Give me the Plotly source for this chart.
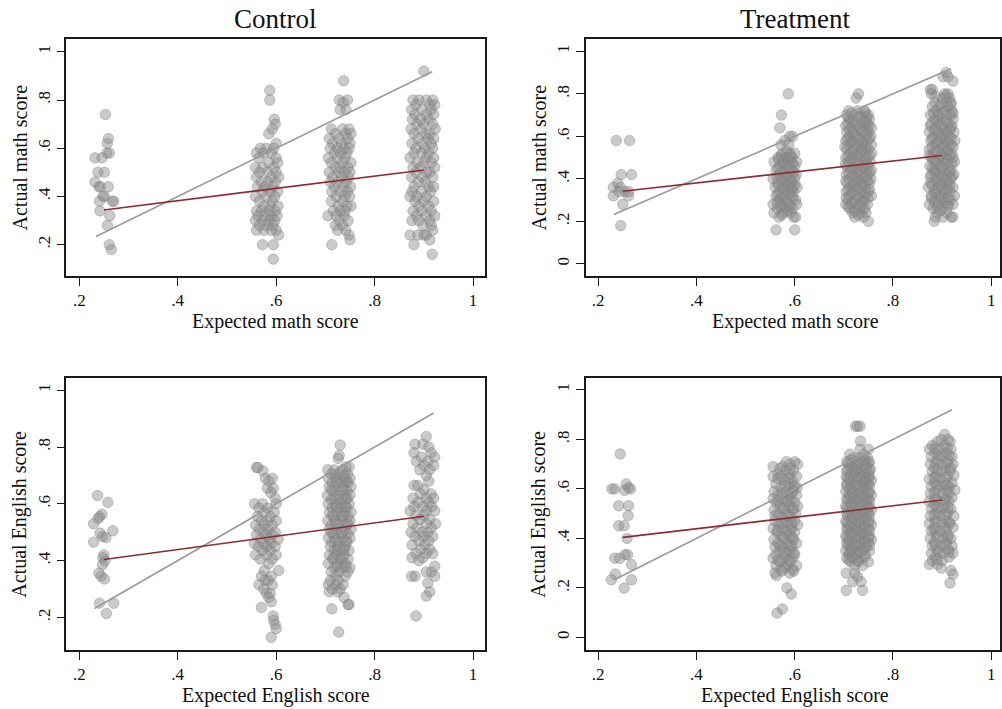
import plotly.graph_objects as go

# ---------------- data (rows: actual score, [expected score with jitter]) ----------------
control_math = [
    (0.74, [0.253]), (0.64, [0.259]), (0.62, [0.257]), (0.58, [0.256, 0.261]), (0.56, [0.232, 0.246]),
    (0.50, [0.238, 0.251]), (0.46, [0.232]), (0.44, [0.240, 0.243, 0.259]), (0.40, [0.248, 0.251]),
    (0.38, [0.241, 0.270, 0.267]), (0.34, [0.242]), (0.32, [0.262]), (0.28, [0.257]), (0.20, [0.261]), (0.18, [0.265]),
    (0.84, [0.587]), (0.80, [0.587]), (0.72, [0.596]), (0.70, [0.598]), (0.68, [0.592]), (0.66, [0.585]), (0.62, [0.600]),
    (0.60, [0.568, 0.580, 0.595]), (0.58, [0.560, 0.575, 0.590]), (0.56, [0.565, 0.600]), (0.54, [0.585, 0.603]),
    (0.52, [0.558, 0.572, 0.595]), (0.50, [0.566, 0.582, 0.600]), (0.48, [0.560, 0.590, 0.605]),
    (0.46, [0.570, 0.583, 0.598]), (0.44, [0.562, 0.577, 0.593]), (0.42, [0.572, 0.588, 0.603]),
    (0.40, [0.558, 0.580, 0.597]), (0.38, [0.566, 0.592]), (0.36, [0.575, 0.588, 0.604]),
    (0.34, [0.560, 0.570, 0.585, 0.598]), (0.32, [0.563, 0.578, 0.590, 0.602]), (0.30, [0.558, 0.572, 0.586, 0.597]),
    (0.28, [0.566, 0.580, 0.594]), (0.26, [0.560, 0.575, 0.590, 0.600]), (0.24, [0.605]), (0.20, [0.572, 0.594]), (0.14, [0.594]),
    (0.88, [0.737]), (0.80, [0.728, 0.745]), (0.79, [0.736]), (0.76, [0.730, 0.742]),
    (0.68, [0.712, 0.735, 0.748]), (0.66, [0.720, 0.741, 0.752]), (0.64, [0.708, 0.728, 0.745]),
    (0.62, [0.715, 0.733, 0.750]), (0.60, [0.710, 0.724, 0.738, 0.748]), (0.58, [0.718, 0.731, 0.744]),
    (0.56, [0.706, 0.725, 0.740]), (0.54, [0.712, 0.735, 0.752]), (0.52, [0.720, 0.730, 0.746]),
    (0.50, [0.708, 0.727, 0.739, 0.750]), (0.48, [0.715, 0.733, 0.747]), (0.46, [0.710, 0.725, 0.742]),
    (0.44, [0.718, 0.736, 0.751]), (0.42, [0.713, 0.730, 0.745]), (0.40, [0.722, 0.740, 0.749]),
    (0.38, [0.712, 0.735]), (0.36, [0.726, 0.744, 0.752]), (0.34, [0.716, 0.731, 0.740]),
    (0.32, [0.705, 0.722, 0.738]), (0.30, [0.728, 0.746]), (0.28, [0.720, 0.735]), (0.26, [0.725, 0.741]),
    (0.24, [0.748]), (0.22, [0.750]), (0.20, [0.713]),
    (0.92, [0.900]), (0.80, [0.878, 0.890, 0.905, 0.918]), (0.78, [0.884, 0.912, 0.922]), (0.76, [0.875, 0.896, 0.915]),
    (0.74, [0.882, 0.905, 0.920]), (0.72, [0.877, 0.893, 0.910]), (0.70, [0.886, 0.900, 0.918]),
    (0.68, [0.874, 0.895, 0.923]), (0.66, [0.880, 0.903, 0.912]), (0.64, [0.888, 0.908, 0.920]),
    (0.62, [0.876, 0.897, 0.915]), (0.60, [0.884, 0.902, 0.918]), (0.58, [0.880, 0.895, 0.910]),
    (0.56, [0.872, 0.905, 0.920]), (0.54, [0.886, 0.900, 0.915]), (0.52, [0.878, 0.893, 0.922]),
    (0.50, [0.884, 0.906, 0.912]), (0.48, [0.875, 0.897, 0.918]), (0.46, [0.889, 0.903]),
    (0.44, [0.880, 0.910, 0.920]), (0.42, [0.876, 0.895, 0.914]), (0.40, [0.872, 0.886, 0.905]),
    (0.38, [0.882, 0.900, 0.920]), (0.36, [0.890, 0.910]), (0.34, [0.878, 0.896, 0.915]),
    (0.32, [0.885, 0.905, 0.922]), (0.30, [0.876, 0.890, 0.912]), (0.28, [0.898, 0.915]), (0.26, [0.918]),
    (0.24, [0.872, 0.888, 0.900, 0.905]), (0.22, [0.912]), (0.20, [0.880]), (0.16, [0.917]),
]

treatment_math = [
    (0.58, [0.237, 0.264]), (0.42, [0.247, 0.268]), (0.38, [0.240]), (0.36, [0.231, 0.245]),
    (0.34, [0.242, 0.254, 0.262]), (0.32, [0.231, 0.262]), (0.28, [0.250]), (0.18, [0.246]),
    (0.80, [0.587]), (0.70, [0.573]), (0.64, [0.570]), (0.60, [0.590, 0.596]), (0.58, [0.580]), (0.56, [0.572, 0.588]),
    (0.52, [0.575, 0.590, 0.600]), (0.50, [0.566, 0.582, 0.595]), (0.48, [0.558, 0.576, 0.592, 0.604]),
    (0.46, [0.570, 0.585, 0.600]), (0.44, [0.562, 0.578, 0.594]), (0.42, [0.568, 0.586, 0.603]),
    (0.40, [0.556, 0.574, 0.590, 0.600]), (0.38, [0.565, 0.582, 0.596]), (0.36, [0.560, 0.576, 0.592, 0.605]),
    (0.34, [0.570, 0.586, 0.598]), (0.32, [0.562, 0.578, 0.594]), (0.30, [0.568, 0.584, 0.602]),
    (0.28, [0.556, 0.574, 0.590, 0.604]), (0.26, [0.565, 0.581, 0.596]), (0.24, [0.558, 0.576, 0.592]),
    (0.22, [0.568, 0.598, 0.602]), (0.16, [0.562, 0.600]),
    (0.80, [0.730]), (0.78, [0.725]), (0.72, [0.710, 0.728, 0.742]), (0.70, [0.705, 0.720, 0.735, 0.750]),
    (0.68, [0.712, 0.740, 0.752]), (0.66, [0.708, 0.722, 0.736, 0.748]), (0.64, [0.715, 0.730, 0.745, 0.756]),
    (0.62, [0.706, 0.720, 0.738, 0.750]), (0.60, [0.712, 0.727, 0.742, 0.755]), (0.58, [0.704, 0.718, 0.733, 0.748]),
    (0.56, [0.710, 0.725, 0.740, 0.756]), (0.54, [0.706, 0.720, 0.735, 0.750]), (0.52, [0.713, 0.728, 0.744, 0.757]),
    (0.50, [0.704, 0.718, 0.732, 0.748]), (0.48, [0.710, 0.725, 0.740, 0.754]), (0.46, [0.706, 0.721, 0.736, 0.750]),
    (0.44, [0.714, 0.729, 0.745, 0.756]), (0.42, [0.705, 0.719, 0.734, 0.749]), (0.40, [0.711, 0.726, 0.741, 0.755]),
    (0.38, [0.707, 0.722, 0.737, 0.752]), (0.36, [0.713, 0.728, 0.743]), (0.34, [0.705, 0.720, 0.735, 0.750]),
    (0.32, [0.712, 0.727, 0.742, 0.756]), (0.30, [0.708, 0.723, 0.738]), (0.28, [0.704, 0.716, 0.731, 0.748]),
    (0.26, [0.712, 0.726, 0.742]), (0.24, [0.718, 0.735, 0.745]), (0.22, [0.722, 0.740]), (0.20, [0.750]),
    (0.90, [0.908]), (0.88, [0.902, 0.912]), (0.86, [0.922]), (0.82, [0.876, 0.880]), (0.80, [0.878, 0.905, 0.912]),
    (0.78, [0.900, 0.915]), (0.76, [0.885, 0.908, 0.918]), (0.74, [0.880, 0.895, 0.912]), (0.72, [0.888, 0.904, 0.920]),
    (0.70, [0.876, 0.892, 0.910, 0.918]), (0.68, [0.884, 0.900, 0.922]), (0.66, [0.878, 0.896, 0.912]),
    (0.64, [0.886, 0.905, 0.918]), (0.62, [0.874, 0.893, 0.910, 0.924]), (0.60, [0.882, 0.898, 0.915]),
    (0.58, [0.877, 0.892, 0.908, 0.926]), (0.56, [0.886, 0.902, 0.918]), (0.54, [0.874, 0.895, 0.912]),
    (0.52, [0.882, 0.900, 0.920]), (0.50, [0.878, 0.893, 0.908, 0.922]), (0.48, [0.886, 0.903, 0.925]),
    (0.46, [0.875, 0.896, 0.913]), (0.44, [0.883, 0.900, 0.918]), (0.42, [0.878, 0.894, 0.910, 0.924]),
    (0.40, [0.887, 0.905, 0.917]), (0.38, [0.876, 0.895, 0.912]), (0.36, [0.872, 0.890, 0.908, 0.922]),
    (0.34, [0.884, 0.900, 0.916]), (0.32, [0.878, 0.896, 0.925]), (0.30, [0.886, 0.904, 0.918]),
    (0.28, [0.874, 0.893, 0.912, 0.922]), (0.26, [0.882, 0.900]), (0.24, [0.890, 0.910]),
    (0.22, [0.886, 0.902, 0.918, 0.922]), (0.20, [0.884]),
]
treatment_math_dense = [
    (0.53, [0.584]), (0.51, [0.572, 0.592]), (0.49, [0.568, 0.586]), (0.47, [0.578, 0.596]), (0.45, [0.566, 0.588]),
    (0.43, [0.576, 0.598]), (0.41, [0.564, 0.582]), (0.39, [0.574, 0.592]), (0.37, [0.568, 0.586, 0.600]),
    (0.35, [0.578, 0.594]), (0.33, [0.566, 0.588]), (0.31, [0.574, 0.596]), (0.29, [0.564, 0.584]),
    (0.27, [0.572, 0.590]), (0.25, [0.584]), (0.23, [0.574]),
    (0.71, [0.716, 0.744]), (0.69, [0.709, 0.731, 0.746]), (0.67, [0.718, 0.744]), (0.65, [0.704, 0.726, 0.751]),
    (0.63, [0.712, 0.735]), (0.61, [0.719, 0.746]), (0.59, [0.708, 0.729, 0.752]), (0.57, [0.715, 0.738]),
    (0.55, [0.702, 0.730, 0.745]), (0.53, [0.718, 0.736]), (0.51, [0.709, 0.725, 0.752]), (0.49, [0.715, 0.744]),
    (0.47, [0.703, 0.729, 0.746]), (0.45, [0.719, 0.738]), (0.43, [0.710, 0.727, 0.753]), (0.41, [0.717, 0.745]),
    (0.39, [0.704, 0.731, 0.748]), (0.37, [0.719, 0.736]), (0.35, [0.709, 0.727, 0.752]), (0.33, [0.716, 0.744]),
    (0.31, [0.705, 0.731, 0.749]), (0.29, [0.718, 0.740]), (0.27, [0.709, 0.734]), (0.25, [0.722]), (0.23, [0.730]),
    (0.79, [0.886, 0.908]), (0.75, [0.898, 0.918]), (0.71, [0.882, 0.900, 0.922]), (0.67, [0.890, 0.908]),
    (0.65, [0.876, 0.898, 0.920]), (0.63, [0.884, 0.915]), (0.61, [0.892, 0.906]), (0.59, [0.880, 0.898, 0.918]),
    (0.57, [0.890, 0.912]), (0.55, [0.880, 0.904, 0.922]), (0.53, [0.888, 0.910]), (0.51, [0.874, 0.898, 0.916]),
    (0.49, [0.882, 0.912]), (0.47, [0.890, 0.906, 0.920]), (0.45, [0.880, 0.898]), (0.43, [0.886, 0.915]),
    (0.41, [0.876, 0.900, 0.920]), (0.39, [0.888, 0.908]), (0.37, [0.880, 0.898, 0.915]), (0.35, [0.892, 0.910]),
    (0.33, [0.886, 0.905]), (0.31, [0.878, 0.898, 0.912]), (0.29, [0.884, 0.906]), (0.27, [0.890, 0.912]), (0.25, [0.896]),
]

control_english = [
    (0.629, [0.237]), (0.605, [0.258]), (0.563, [0.246]), (0.555, [0.241]), (0.548, [0.238]), (0.530, [0.229]),
    (0.505, [0.268]), (0.497, [0.242]), (0.485, [0.247]), (0.481, [0.254]), (0.465, [0.229]), (0.420, [0.250]),
    (0.410, [0.248]), (0.398, [0.252]), (0.385, [0.247]), (0.356, [0.240]), (0.345, [0.244]), (0.335, [0.251]),
    (0.250, [0.241, 0.270]), (0.214, [0.255]),
    (0.728, [0.560, 0.563]), (0.716, [0.573]), (0.69, [0.578, 0.592]), (0.68, [0.585]), (0.655, [0.582, 0.594]),
    (0.64, [0.589]), (0.62, [0.598]), (0.60, [0.556, 0.572, 0.600]), (0.585, [0.565, 0.583]), (0.57, [0.575, 0.596]),
    (0.555, [0.562, 0.588]), (0.54, [0.570, 0.582, 0.600]), (0.525, [0.558, 0.576, 0.592]), (0.51, [0.566, 0.584]),
    (0.50, [0.574, 0.598]), (0.49, [0.560, 0.580, 0.592]), (0.475, [0.568, 0.586, 0.604]), (0.46, [0.556, 0.575, 0.590]),
    (0.45, [0.564, 0.582, 0.598]), (0.435, [0.572, 0.588]), (0.42, [0.558, 0.580, 0.600]), (0.405, [0.568, 0.592]),
    (0.39, [0.585]), (0.365, [0.576, 0.605]), (0.345, [0.570, 0.590]), (0.33, [0.578, 0.584]), (0.315, [0.565, 0.592]),
    (0.30, [0.575]), (0.285, [0.580, 0.588]), (0.27, [0.585]), (0.255, [0.590]), (0.235, [0.570]), (0.205, [0.594]),
    (0.19, [0.595]), (0.175, [0.598]), (0.16, [0.600]), (0.13, [0.590]),
    (0.807, [0.730]), (0.77, [0.728]), (0.76, [0.726]), (0.73, [0.742, 0.748]), (0.72, [0.705, 0.718, 0.735]),
    (0.705, [0.712, 0.728, 0.745]), (0.69, [0.706, 0.722, 0.738, 0.750]), (0.675, [0.714, 0.731, 0.746]),
    (0.66, [0.708, 0.720, 0.736, 0.752]), (0.645, [0.716, 0.730, 0.744]), (0.63, [0.704, 0.722, 0.738, 0.750]),
    (0.615, [0.712, 0.727, 0.742]), (0.60, [0.706, 0.720, 0.735, 0.748]), (0.585, [0.714, 0.730, 0.744]),
    (0.57, [0.708, 0.724, 0.739, 0.752]), (0.555, [0.716, 0.732, 0.746]), (0.54, [0.705, 0.720, 0.736, 0.750]),
    (0.525, [0.712, 0.728, 0.743]), (0.51, [0.708, 0.723, 0.738, 0.752]), (0.495, [0.716, 0.731, 0.745]),
    (0.48, [0.706, 0.720, 0.735, 0.750]), (0.465, [0.713, 0.729, 0.744]), (0.45, [0.710, 0.724, 0.740]),
    (0.435, [0.718, 0.733, 0.748]), (0.42, [0.708, 0.722, 0.738]), (0.405, [0.715, 0.730, 0.746]),
    (0.39, [0.706, 0.725, 0.740]), (0.375, [0.718, 0.735, 0.750]), (0.36, [0.712, 0.728, 0.745]),
    (0.345, [0.720, 0.740]), (0.33, [0.710, 0.726]), (0.315, [0.706, 0.722, 0.736]), (0.30, [0.714, 0.730]),
    (0.29, [0.708, 0.725]), (0.27, [0.738]), (0.245, [0.746, 0.748]), (0.23, [0.713]), (0.148, [0.727]),
    (0.837, [0.905]), (0.81, [0.882, 0.898]), (0.80, [0.910]), (0.78, [0.880, 0.915]), (0.765, [0.895, 0.922]),
    (0.75, [0.885, 0.908]), (0.735, [0.900, 0.920]), (0.72, [0.892, 0.912]), (0.70, [0.905]), (0.68, [0.910]),
    (0.665, [0.880, 0.888]), (0.65, [0.900]), (0.635, [0.893, 0.915]), (0.62, [0.878, 0.905, 0.920]),
    (0.605, [0.888, 0.910]), (0.59, [0.880, 0.898, 0.916]), (0.575, [0.872, 0.905, 0.922]), (0.56, [0.884, 0.900]),
    (0.545, [0.892, 0.912]), (0.53, [0.878, 0.905, 0.924]), (0.515, [0.886, 0.915]), (0.50, [0.874, 0.896, 0.908]),
    (0.485, [0.882, 0.900, 0.918]), (0.47, [0.890, 0.910]), (0.455, [0.876, 0.902]), (0.44, [0.894, 0.912]),
    (0.425, [0.884, 0.905, 0.918]), (0.41, [0.876, 0.898]), (0.40, [0.890]), (0.38, [0.922]), (0.36, [0.905, 0.915]),
    (0.345, [0.875, 0.882, 0.922]), (0.32, [0.908]), (0.29, [0.912]), (0.275, [0.905]), (0.205, [0.884]),
]
control_english_dense = [
    (0.70, [0.720, 0.738]), (0.68, [0.724, 0.742]), (0.65, [0.712, 0.738]), (0.62, [0.718, 0.744]),
    (0.59, [0.724, 0.740]), (0.56, [0.714, 0.736]), (0.53, [0.722, 0.746]), (0.50, [0.712, 0.734]),
    (0.47, [0.720, 0.742]), (0.44, [0.726, 0.738]), (0.41, [0.716, 0.734]), (0.38, [0.724, 0.742]),
]

treatment_english = [
    (0.741, [0.245]), (0.620, [0.257]), (0.605, [0.262]), (0.600, [0.228, 0.234, 0.266]), (0.594, [0.254]),
    (0.532, [0.242, 0.262]), (0.492, [0.261]), (0.451, [0.242, 0.253]), (0.400, [0.259]), (0.334, [0.255, 0.260]),
    (0.320, [0.234, 0.244]), (0.294, [0.268]), (0.256, [0.235]), (0.233, [0.227, 0.268]), (0.199, [0.253]),
    (0.71, [0.583, 0.600]), (0.70, [0.590, 0.606]), (0.69, [0.556, 0.575]), (0.675, [0.582, 0.598]),
    (0.66, [0.566, 0.590]), (0.65, [0.556, 0.572, 0.604]), (0.635, [0.580, 0.595]), (0.62, [0.562, 0.588]),
    (0.605, [0.572, 0.598, 0.605]), (0.59, [0.558, 0.582, 0.596]), (0.575, [0.566, 0.588, 0.604]),
    (0.56, [0.556, 0.574, 0.592]), (0.545, [0.562, 0.583, 0.600]), (0.53, [0.570, 0.590, 0.606]),
    (0.515, [0.558, 0.578, 0.596]), (0.50, [0.566, 0.586, 0.602]), (0.485, [0.574, 0.592]),
    (0.47, [0.560, 0.582, 0.600]), (0.455, [0.568, 0.588, 0.606]), (0.44, [0.556, 0.576, 0.594]),
    (0.425, [0.564, 0.584, 0.600]), (0.41, [0.572, 0.590]), (0.395, [0.558, 0.580, 0.598]),
    (0.38, [0.566, 0.586, 0.604]), (0.365, [0.560, 0.576, 0.594]), (0.35, [0.570, 0.590]),
    (0.335, [0.562, 0.584, 0.600]), (0.32, [0.556, 0.578, 0.596]), (0.305, [0.570, 0.590]),
    (0.29, [0.562, 0.584, 0.604]), (0.275, [0.572, 0.596]), (0.26, [0.560, 0.590]), (0.25, [0.563]),
    (0.20, [0.584]), (0.175, [0.593]), (0.115, [0.575]), (0.098, [0.564]),
    (0.853, [0.724, 0.728, 0.733]), (0.793, [0.734]), (0.76, [0.733, 0.750]), (0.74, [0.712, 0.740]),
    (0.725, [0.720, 0.732, 0.748]), (0.71, [0.706, 0.724, 0.740, 0.752]), (0.695, [0.714, 0.730, 0.746]),
    (0.68, [0.708, 0.722, 0.738, 0.754]), (0.665, [0.716, 0.732, 0.748]), (0.65, [0.705, 0.720, 0.736, 0.752]),
    (0.635, [0.712, 0.728, 0.744, 0.756]), (0.62, [0.706, 0.722, 0.738, 0.750]), (0.605, [0.714, 0.730, 0.746]),
    (0.59, [0.704, 0.718, 0.734, 0.752]), (0.575, [0.710, 0.726, 0.742, 0.756]), (0.56, [0.706, 0.720, 0.736, 0.750]),
    (0.545, [0.714, 0.730, 0.746]), (0.53, [0.704, 0.718, 0.734, 0.752]), (0.515, [0.710, 0.726, 0.742, 0.756]),
    (0.50, [0.706, 0.720, 0.736, 0.750]), (0.485, [0.714, 0.730, 0.746]), (0.47, [0.704, 0.718, 0.734, 0.752]),
    (0.455, [0.710, 0.726, 0.742, 0.756]), (0.44, [0.706, 0.720, 0.736, 0.750]), (0.425, [0.714, 0.730, 0.746]),
    (0.41, [0.704, 0.718, 0.734, 0.752]), (0.395, [0.710, 0.726, 0.742, 0.756]), (0.38, [0.706, 0.720, 0.736, 0.750]),
    (0.365, [0.714, 0.730, 0.746]), (0.35, [0.704, 0.718, 0.734, 0.752]), (0.335, [0.710, 0.726, 0.742]),
    (0.32, [0.706, 0.720, 0.736]), (0.305, [0.714, 0.730, 0.750]), (0.29, [0.722, 0.738]), (0.26, [0.705, 0.722]),
    (0.245, [0.728]), (0.225, [0.718, 0.735]), (0.19, [0.705, 0.738]),
    (0.82, [0.905]), (0.80, [0.898, 0.912]), (0.79, [0.890, 0.916]), (0.775, [0.880, 0.905]),
    (0.76, [0.874, 0.895, 0.918]), (0.745, [0.886, 0.908]), (0.73, [0.878, 0.900, 0.920]), (0.715, [0.890, 0.912]),
    (0.70, [0.876, 0.898, 0.922]), (0.685, [0.884, 0.906, 0.918]), (0.67, [0.880, 0.900]),
    (0.655, [0.888, 0.912, 0.924]), (0.64, [0.874, 0.896]), (0.625, [0.884, 0.905, 0.920]),
    (0.61, [0.878, 0.898, 0.915]), (0.595, [0.890, 0.910, 0.926]), (0.58, [0.876, 0.900]),
    (0.565, [0.886, 0.908, 0.920]), (0.55, [0.874, 0.895, 0.914]), (0.535, [0.884, 0.904]),
    (0.52, [0.878, 0.900, 0.918]), (0.505, [0.890, 0.912]), (0.49, [0.876, 0.896, 0.924]), (0.475, [0.886, 0.908]),
    (0.46, [0.874, 0.900, 0.916]), (0.445, [0.884, 0.905, 0.922]), (0.43, [0.878, 0.896]), (0.415, [0.888, 0.912]),
    (0.40, [0.876, 0.902, 0.918]), (0.385, [0.884, 0.908]), (0.37, [0.880, 0.898, 0.920]), (0.355, [0.890, 0.912]),
    (0.34, [0.878, 0.902, 0.922]), (0.325, [0.886, 0.914]), (0.31, [0.880, 0.900]), (0.295, [0.874, 0.890]),
    (0.28, [0.898]), (0.27, [0.918]), (0.255, [0.922]), (0.22, [0.916]),
]
treatment_english_dense = [
    (0.682, [0.570, 0.590]), (0.642, [0.566, 0.588]), (0.612, [0.580, 0.600]), (0.582, [0.574, 0.594]),
    (0.552, [0.566, 0.586]), (0.522, [0.578, 0.598]), (0.492, [0.560, 0.584]), (0.462, [0.574, 0.594]),
    (0.432, [0.566, 0.590]), (0.402, [0.576, 0.596]), (0.372, [0.570, 0.592]), (0.342, [0.578, 0.598]),
    (0.312, [0.566, 0.588]), (0.282, [0.580]), (0.268, [0.574, 0.598]),
    (0.717, [0.714, 0.742]), (0.702, [0.708, 0.728, 0.750]), (0.687, [0.716, 0.744]), (0.672, [0.706, 0.726, 0.752]),
    (0.657, [0.714, 0.740]), (0.642, [0.708, 0.732, 0.750]), (0.627, [0.716, 0.742]), (0.612, [0.706, 0.726, 0.752]),
    (0.597, [0.712, 0.740]), (0.582, [0.718, 0.732, 0.750]), (0.567, [0.714, 0.744]), (0.552, [0.708, 0.726, 0.752]),
    (0.537, [0.716, 0.740]), (0.522, [0.706, 0.732, 0.750]), (0.507, [0.714, 0.742]), (0.492, [0.708, 0.726, 0.752]),
    (0.477, [0.716, 0.740]), (0.462, [0.706, 0.732, 0.750]), (0.447, [0.714, 0.742]), (0.432, [0.708, 0.726, 0.752]),
    (0.417, [0.716, 0.740]), (0.402, [0.706, 0.732, 0.750]), (0.387, [0.714, 0.742]), (0.372, [0.708, 0.726, 0.752]),
    (0.357, [0.716, 0.740]), (0.342, [0.712, 0.732]), (0.327, [0.716, 0.744]), (0.312, [0.710, 0.728]),
    (0.765, [0.886, 0.910]), (0.735, [0.892, 0.914]), (0.705, [0.886, 0.910]), (0.675, [0.890, 0.916]),
    (0.645, [0.884, 0.908]), (0.615, [0.888, 0.910]), (0.585, [0.884, 0.914]), (0.555, [0.886, 0.906]),
    (0.525, [0.890, 0.912]), (0.495, [0.884, 0.908]), (0.465, [0.888, 0.914]), (0.435, [0.884, 0.908]),
    (0.405, [0.890, 0.912]), (0.375, [0.886, 0.908]), (0.345, [0.892, 0.914]), (0.315, [0.890]),
]

# fitted lines (endpoints at expected = .25 and .90) and 45-degree reference lines
fit_x = [0.25, 0.90]
fit_control_math = [0.344, 0.510]
fit_treatment_math = [0.342, 0.510]
fit_control_english = [0.404, 0.556]
fit_treatment_english = [0.404, 0.555]
diag_control_math = [0.234, 0.917]
diag_treatment_math = [0.232, 0.918]
diag_control_english = [0.231, 0.920]
diag_treatment_english = [0.232, 0.920]

col_titles = ["Control", "Treatment"]
x_titles = ["Expected math score", "Expected English score"]
y_titles = ["Actual math score", "Actual English score"]
x_tickvals = [0.2, 0.4, 0.6, 0.8, 1.0]
x_ticktext = [".2", ".4", ".6", ".8", "1"]
y_tickvals_left = [0.2, 0.4, 0.6, 0.8, 1.0]
y_ticktext_left = [".2", ".4", ".6", ".8", "1"]
y_tickvals_right = [0, 0.2, 0.4, 0.6, 0.8, 1.0]
y_ticktext_right = ["0", ".2", ".4", ".6", ".8", "1"]


def expand(rows):
    xs, ys = [], []
    for yv, xl in rows:
        for xv in xl:
            xs.append(xv)
            ys.append(yv)
    return xs, ys


FONT = "Liberation Serif"
W, H = 1002, 709
fig = go.Figure()

panels = [
    (control_math, fit_control_math, diag_control_math, "x", "y"),
    (treatment_math + treatment_math_dense, fit_treatment_math, diag_treatment_math, "x2", "y2"),
    (control_english + control_english_dense, fit_control_english, diag_control_english, "x3", "y3"),
    (treatment_english + treatment_english_dense, fit_treatment_english, diag_treatment_english, "x4", "y4"),
]

for rows, fit_y, diag, xa, ya in panels:
    xs, ys = expand(rows)
    fig.add_trace(go.Scatter(
        x=xs, y=ys, mode="markers", xaxis=xa, yaxis=ya, showlegend=False, hoverinfo="skip",
        marker=dict(size=10.5, color="rgba(140,140,140,0.46)",
                    line=dict(color="rgba(120,120,120,0.38)", width=1)),
    ))
    fig.add_trace(go.Scatter(
        x=diag, y=diag, mode="lines", xaxis=xa, yaxis=ya, showlegend=False, hoverinfo="skip",
        line=dict(color="#9a9a9a", width=1.6),
    ))
    fig.add_trace(go.Scatter(
        x=fit_x, y=fit_y, mode="lines", xaxis=xa, yaxis=ya, showlegend=False, hoverinfo="skip",
        line=dict(color="#8e2a36", width=1.6),
    ))

# pixel geometry of plot regions
L_left, L_right = 66.5, 486.0
R_left, R_right = 586.7, 1002.0
T_top, T_bot = 39.0, 276.0
B_top, B_bot = 377.5, 650.0


def xdom(a, b):
    return [a / W, b / W]


def ydom(top, bot):
    return [1 - bot / H, 1 - top / H]


axis_common = dict(showgrid=False, zeroline=False, showline=True, linecolor="#1a1a1a", linewidth=1.6,
                   ticks="outside", ticklen=8, tickwidth=1.2, tickcolor="#1a1a1a",
                   tickfont=dict(family=FONT, size=17, color="#111"))

layout = dict(
    width=W, height=H, margin=dict(l=0, r=0, t=0, b=0),
    paper_bgcolor="white", plot_bgcolor="white", showlegend=False,
    font=dict(family=FONT, color="#111"),
)

xranges = {"L": [0.1737, 1.0243], "R": [0.1744, 1.0177]}
specs = [
    ("xaxis", "yaxis", "x", "y", "L", (T_top, T_bot), [0.070, 1.053], y_tickvals_left, y_ticktext_left),
    ("xaxis2", "yaxis2", "x2", "y2", "R", (T_top, T_bot), [-0.057, 1.058], y_tickvals_right, y_ticktext_right),
    ("xaxis3", "yaxis3", "x3", "y3", "L", (B_top, B_bot), [0.085, 1.045], y_tickvals_left, y_ticktext_left),
    ("xaxis4", "yaxis4", "x4", "y4", "R", (B_top, B_bot), [-0.051, 1.05], y_tickvals_right, y_ticktext_right),
]
for xk, yk, xid, yid, side, (top, bot), yr, ytv, ytt in specs:
    xd = xdom(L_left, L_right) if side == "L" else xdom(R_left, R_right)
    layout[xk] = dict(axis_common, domain=xd, range=xranges[side], anchor=yid, mirror=True,
                      tickvals=x_tickvals, ticktext=x_ticktext)
    layout[yk] = dict(axis_common, domain=ydom(top, bot), range=yr, anchor=xid, mirror=True,
                      tickvals=ytv, ticktext=ytt, tickangle=-90)

annotations = []
# column titles
annotations.append(dict(text=col_titles[0], x=(L_left + L_right) / 2 / W, y=1 - 19 / H, xref="paper", yref="paper",
                        showarrow=False, font=dict(family=FONT, size=27, color="#111"), xanchor="center", yanchor="middle"))
annotations.append(dict(text=col_titles[1], x=(R_left + 1006.7) / 2 / W, y=1 - 19 / H, xref="paper", yref="paper",
                        showarrow=False, font=dict(family=FONT, size=27, color="#111"), xanchor="center", yanchor="middle"))
# x axis titles
for row, yc in enumerate([321, 695]):
    for cx in [(L_left + L_right) / 2, (R_left + 1006.7) / 2]:
        annotations.append(dict(text=x_titles[row], x=cx / W, y=1 - yc / H, xref="paper", yref="paper",
                                showarrow=False, font=dict(family=FONT, size=20, color="#111"),
                                xanchor="center", yanchor="middle"))
# y axis titles
for row, (top, bot) in enumerate([(T_top, T_bot), (B_top, B_bot)]):
    for xc in [20, 540]:
        annotations.append(dict(text=y_titles[row], x=xc / W, y=1 - ((top + bot) / 2) / H, xref="paper", yref="paper",
                                showarrow=False, textangle=-90, font=dict(family=FONT, size=20, color="#111"),
                                xanchor="center", yanchor="middle"))
layout["annotations"] = annotations

fig.update_layout(**layout)
fig.write_html("out.html")
